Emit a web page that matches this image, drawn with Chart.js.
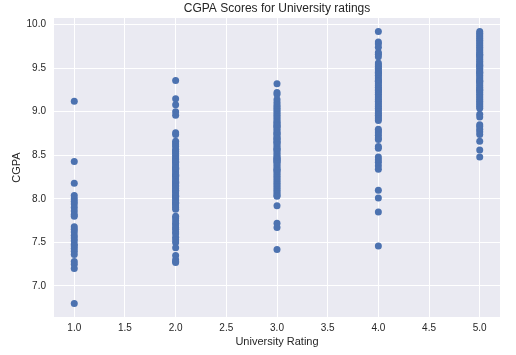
<!DOCTYPE html>
<html>
<head>
<meta charset="utf-8">
<script src="https://cdn.jsdelivr.net/npm/chart.js@4.4.0/dist/chart.umd.min.js"></script>
<style>
  html, body { margin: 0; padding: 0; background: #ffffff; }
  #wrap { width: 516px; height: 355px; position: relative; }
</style>
</head>
<body>
<div id="wrap"><canvas id="c" width="516" height="355"></canvas></div>
<script>
// Data: CGPA values, grouped by University Rating
const ratings = [1, 2, 3, 4, 5];
const cgpaRating1 = [9.12, 8.43, 8.18, 8.04, 8.0, 7.97, 7.94, 7.9, 7.86, 7.82, 7.8, 7.68, 7.65, 7.62, 7.58, 7.55, 7.52, 7.48, 7.46, 7.43, 7.4, 7.36, 7.28, 7.25, 7.2, 6.8];
const cgpaRating2 = [9.36, 9.15, 9.08, 9.0, 8.96, 8.76, 8.74, 8.66, 8.64, 8.62, 8.6, 8.57, 8.55, 8.54, 8.52, 8.5, 8.48, 8.46, 8.45, 8.43, 8.42, 8.4, 8.38, 8.36, 8.35, 8.34, 8.32, 8.3, 8.28, 8.27, 8.26, 8.24, 8.22, 8.2, 8.19, 8.18, 8.16, 8.15, 8.14, 8.12, 8.1, 8.09, 8.08, 8.06, 8.04, 8.03, 8.02, 8.0, 7.98, 7.96, 7.95, 7.94, 7.92, 7.9, 7.88, 7.8, 7.78, 7.75, 7.72, 7.7, 7.67, 7.65, 7.62, 7.6, 7.56, 7.53, 7.5, 7.44, 7.35, 7.3, 7.28, 7.27];
const cgpaRating3 = [9.32, 9.22, 9.2, 9.14, 9.11, 9.08, 9.06, 9.04, 9.02, 9.0, 8.98, 8.96, 8.94, 8.92, 8.9, 8.88, 8.87, 8.85, 8.84, 8.83, 8.82, 8.8, 8.78, 8.76, 8.75, 8.74, 8.72, 8.7, 8.69, 8.68, 8.66, 8.65, 8.64, 8.62, 8.6, 8.58, 8.57, 8.56, 8.54, 8.52, 8.5, 8.48, 8.47, 8.46, 8.45, 8.44, 8.43, 8.42, 8.4, 8.38, 8.36, 8.34, 8.33, 8.32, 8.3, 8.28, 8.26, 8.24, 8.22, 8.2, 8.18, 8.16, 8.14, 8.12, 8.1, 8.08, 8.06, 8.04, 8.03, 7.92, 7.72, 7.67, 7.42];
const cgpaRating4 = [9.92, 9.8, 9.78, 9.74, 9.68, 9.66, 9.63, 9.56, 9.54, 9.52, 9.5, 9.48, 9.46, 9.45, 9.44, 9.42, 9.4, 9.38, 9.36, 9.35, 9.34, 9.32, 9.3, 9.28, 9.26, 9.25, 9.24, 9.22, 9.2, 9.18, 9.16, 9.14, 9.12, 9.1, 9.08, 9.06, 9.04, 9.02, 9.0, 8.98, 8.96, 8.94, 8.92, 8.9, 8.8, 8.78, 8.76, 8.73, 8.7, 8.68, 8.6, 8.58, 8.48, 8.45, 8.42, 8.38, 8.34, 8.1, 8.01, 7.85, 7.46];
const cgpaRating5 = [9.92, 9.9, 9.88, 9.86, 9.84, 9.82, 9.8, 9.78, 9.76, 9.74, 9.72, 9.7, 9.68, 9.66, 9.65, 9.64, 9.62, 9.6, 9.58, 9.56, 9.54, 9.53, 9.52, 9.5, 9.48, 9.46, 9.45, 9.44, 9.42, 9.4, 9.38, 9.36, 9.35, 9.34, 9.32, 9.3, 9.28, 9.26, 9.25, 9.24, 9.22, 9.2, 9.18, 9.16, 9.14, 9.12, 9.1, 9.08, 9.06, 9.04, 8.97, 8.94, 8.85, 8.83, 8.8, 8.77, 8.74, 8.66, 8.56, 8.48];
const xTickValues = [1.0, 1.5, 2.0, 2.5, 3.0, 3.5, 4.0, 4.5, 5.0];
const yTickValues = [7.0, 7.5, 8.0, 8.5, 9.0, 9.5, 10.0];
const titleText = 'CGPA Scores for University ratings';
const xLabel = 'University Rating';
const yLabel = 'CGPA';

const groups = [cgpaRating1, cgpaRating2, cgpaRating3, cgpaRating4, cgpaRating5];
const points = [];
groups.forEach((vals, i) => vals.forEach(v => points.push({ x: ratings[i], y: v })));

const FONT = 'Liberation Sans, Arial, sans-serif';
const TEXT = '#262626';

const bgPlugin = {
  id: 'plotBg',
  beforeDraw(chart) {
    const { ctx, chartArea: a } = chart;
    ctx.save();
    ctx.fillStyle = '#EAEAF2';
    ctx.fillRect(a.left, a.top, a.right - a.left, a.bottom - a.top);
    ctx.restore();
  },
  afterDraw(chart) {
    const { ctx, chartArea: a } = chart;
    ctx.save();
    ctx.fillStyle = TEXT;
    ctx.font = '12px ' + FONT;
    ctx.textAlign = 'center';
    ctx.textBaseline = 'middle';
    ctx.fillText(titleText, (a.left + a.right) / 2, 9);
    ctx.restore();
  }
};

new Chart(document.getElementById('c'), {
  type: 'scatter',
  data: {
    datasets: [{
      data: points,
      backgroundColor: '#4C72B0',
      borderColor: '#4C72B0',
      borderWidth: 0,
      pointRadius: 3.5,
      pointHoverRadius: 3.5
    }]
  },
  options: {
    responsive: false,
    animation: false,
    devicePixelRatio: 1,
    layout: { padding: { left: 0, right: 16, top: 18, bottom: 0 } },
    plugins: { legend: { display: false }, tooltip: { enabled: false }, title: { display: false } },
    scales: {
      x: {
        type: 'linear',
        min: 0.8, max: 5.2,
        afterBuildTicks(scale) { scale.ticks = xTickValues.map(v => ({ value: v })); },
        afterFit(scale) { scale.height = 38; },
        grid: { color: '#ffffff', lineWidth: 1, drawTicks: false },
        border: { display: false },
        ticks: { color: TEXT, font: { family: FONT, size: 10 }, padding: 5, callback: v => Number(v).toFixed(1) },
        title: { display: true, text: xLabel, color: TEXT, font: { family: FONT, size: 11 }, padding: { top: 0, bottom: 6 } }
      },
      y: {
        type: 'linear',
        min: 6.644, max: 10.076,
        afterBuildTicks(scale) { scale.ticks = yTickValues.map(v => ({ value: v })); },
        afterFit(scale) { scale.width = 54; },
        grid: { color: '#ffffff', lineWidth: 1, drawTicks: false },
        border: { display: false },
        ticks: { color: TEXT, font: { family: FONT, size: 10 }, padding: 8, callback: v => Number(v).toFixed(1) },
        title: { display: true, text: yLabel, color: TEXT, font: { family: FONT, size: 11 }, padding: { top: 10, bottom: 0 } }
      }
    }
  },
  plugins: [bgPlugin]
});
</script>
</body>
</html>
